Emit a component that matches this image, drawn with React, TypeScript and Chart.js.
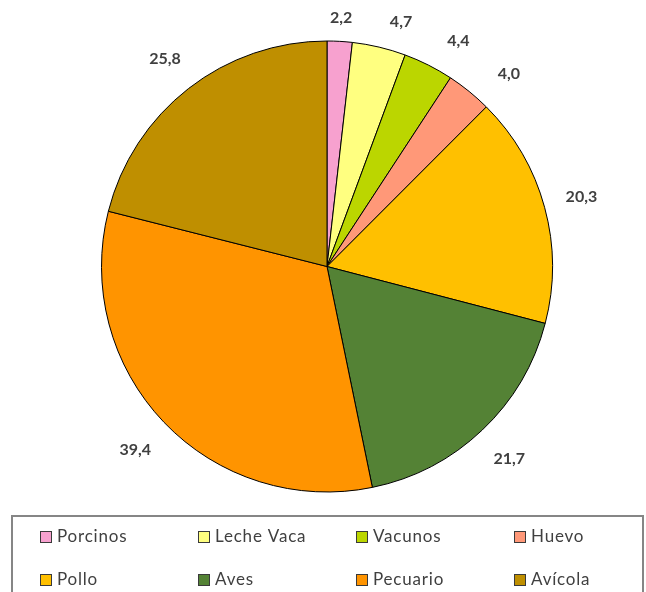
import React, { useEffect, useRef } from "react";
import { Chart, registerables } from "chart.js";

Chart.register(...registerables);

const categories = ["Porcinos", "Leche Vaca", "Vacunos", "Huevo", "Pollo", "Aves", "Pecuario", "Avícola"];
const values = [2.2, 4.7, 4.4, 4.0, 20.3, 21.7, 39.4, 25.8];
const colors = ["#F7A1CF", "#FFFF80", "#BBD600", "#FF9878", "#FFC000", "#548235", "#FF9400", "#BF8F00"];

const labelPlugin = {
  id: "outsideLabels",
  afterDatasetsDraw(chart: any) {
    const ctx = chart.ctx;
    const meta = chart.getDatasetMeta(0);
    ctx.save();
    ctx.font = "bold 16px Lato";
    ctx.fillStyle = "#404040";
    ctx.textAlign = "center";
    ctx.textBaseline = "middle";
    const minGap = 60;
    let prev: { x: number; y: number } | null = null;
    meta.data.forEach((arc: any, i: number) => {
      const p = arc.getProps(["x", "y", "startAngle", "endAngle", "outerRadius"], true);
      let mid = (p.startAngle + p.endAngle) / 2;
      const place = (a: number) => {
        const t = a + Math.PI / 2; // angle from top
        const d = p.outerRadius + 22 + 12 * Math.abs(Math.sin(t)) + 9 * Math.abs(Math.sin(2 * t));
        return { x: p.x + Math.cos(a) * d, y: p.y + Math.sin(a) * d };
      };
      let pos = place(mid);
      if (prev) {
        let guard = 0;
        while (Math.hypot(pos.x - prev.x, pos.y - prev.y) < minGap && guard < 200) {
          mid += 0.005;
          pos = place(mid);
          guard++;
        }
      }
      prev = pos;
      const txt = values[i].toFixed(1).replace(".", ",");
      ctx.fillText(txt, pos.x, pos.y);
    });
    ctx.restore();
  },
};

const legendPlugin = {
  id: "gridLegend",
  afterDraw(chart: any) {
    const ctx = chart.ctx;
    ctx.save();
    ctx.strokeStyle = "#868686";
    ctx.lineWidth = 2;
    ctx.strokeRect(12, 516, 631, 100);
    ctx.font = "17px Lato";
    ctx.textBaseline = "middle";
    ctx.textAlign = "left";
    try {
      (ctx as any).letterSpacing = "0.8px";
    } catch (e) {}
    categories.forEach((c, i) => {
      const col = i % 4;
      const row = Math.floor(i / 4);
      const x = 40 + col * 158;
      const y = 537 + row * 43;
      ctx.fillStyle = colors[i];
      ctx.fillRect(x + 0.5, y - 5.5, 11, 11);
      ctx.strokeStyle = "#3a3a3a";
      ctx.lineWidth = 1;
      ctx.strokeRect(x + 0.5, y - 5.5, 11, 11);
      ctx.fillStyle = "#404040";
      ctx.fillText(c, x + 17, y);
    });
    ctx.restore();
  },
};

export default function App() {
  const ref = useRef<HTMLCanvasElement | null>(null);
  useEffect(() => {
    document.body.style.margin = "0";
    const chart = new Chart(ref.current as HTMLCanvasElement, {
      type: "pie",
      data: {
        labels: categories,
        datasets: [
          {
            data: values,
            backgroundColor: colors,
            borderColor: "#000000",
            borderWidth: 1,
          },
        ],
      },
      options: {
        responsive: false,
        animation: false,
        layout: { padding: { top: 40, bottom: 99, left: 101, right: 93 } },
        plugins: {
          legend: { display: false },
          tooltip: { enabled: false },
        },
      },
      plugins: [labelPlugin, legendPlugin],
    });
    return () => chart.destroy();
  }, []);
  return <canvas ref={ref} width={646} height={592} style={{ display: "block" }} />;
}
